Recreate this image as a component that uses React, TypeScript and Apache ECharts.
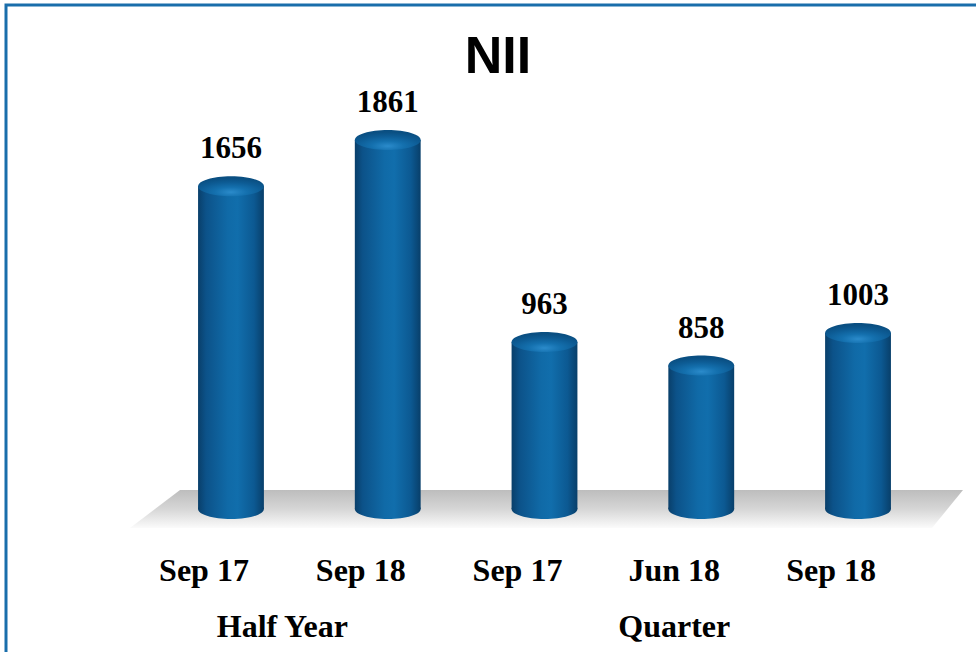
import React, { useEffect, useRef } from "react";
import * as echarts from "echarts";

const TITLE = "NII";
const CATEGORIES = ["Sep 17", "Sep 18", "Sep 17", "Jun 18", "Sep 18"];
const VALUES = [1656, 1861, 963, 858, 1003];
const GROUPS = ["Half Year", "Quarter"];
const GROUP_SPANS = [[0, 1], [2, 4]];
const Y_MIN = 220;
const Y_MAX = 2020;

const SERIF = '"Liberation Serif", "Times New Roman", serif';
const SANS = '"Liberation Sans", Arial, sans-serif';

export default function App() {
  const ref = useRef<HTMLDivElement>(null);

  useEffect(() => {
    if (!ref.current) return;
    const chart = echarts.init(ref.current, null, { renderer: "svg" });

    const sideGradient = () =>
      new echarts.graphic.LinearGradient(0, 0, 1, 0, [
        { offset: 0, color: "#093f6a" },
        { offset: 0.12, color: "#0c5289" },
        { offset: 0.45, color: "#106aa7" },
        { offset: 0.6, color: "#116eac" },
        { offset: 0.85, color: "#0c5992" },
        { offset: 1, color: "#083f6a" },
      ]);

    const option: any = {
      animation: false,
      backgroundColor: "#ffffff",
      grid: { left: 152.6, right: 39.6, top: 104.3, bottom: 652 - 509.1, containLabel: false },
      xAxis: {
        type: "category",
        data: CATEGORIES,
        axisLine: { show: false },
        axisTick: { show: false },
        splitLine: { show: false },
        axisLabel: {
          interval: 0,
          margin: 45,
          padding: [0, 54, 0, 0],
          fontFamily: SERIF,
          fontWeight: "bold",
          fontSize: 32,
          lineHeight: 32,
          color: "#000000",
        },
      },
      yAxis: {
        type: "value",
        min: Y_MIN,
        max: Y_MAX,
        show: false,
        splitLine: { show: false },
      },
      series: [
        {
          type: "custom",
          z: 5,
          encode: { x: 0, y: 1 },
          data: VALUES.map((v, i) => [i, v]),
          renderItem: (params: any, api: any) => {
            const idx = api.value(0);
            const v = api.value(1);
            const top = api.coord([idx, v]);
            const base = api.coord([idx, Y_MIN]);
            const band = api.size([1, 0])[0];
            const w = band * 0.42;
            const rx = w / 2;
            const ry = 10;
            const cx = top[0];
            return {
              type: "group",
              children: [
                {
                  type: "ellipse",
                  shape: { cx, cy: base[1], rx, ry },
                  style: { fill: sideGradient() },
                },
                {
                  type: "rect",
                  shape: { x: cx - rx, y: top[1], width: w, height: base[1] - top[1] },
                  style: { fill: sideGradient() },
                },
                {
                  type: "ellipse",
                  shape: { cx, cy: top[1], rx, ry },
                  style: {
                    fill: new echarts.graphic.RadialGradient(0.5, 0.8, 0.7, [
                      { offset: 0, color: "#2b8bcb" },
                      { offset: 0.35, color: "#1470ae" },
                      { offset: 0.7, color: "#0d5c95" },
                      { offset: 1, color: "#0a4f82" },
                    ]),
                  },
                },
                {
                  type: "text",
                  style: {
                    text: String(v),
                    x: cx,
                    y: top[1] - ry - 13,
                    align: "center",
                    verticalAlign: "bottom",
                    font: `bold 31px ${SERIF}`,
                    fill: "#000000",
                  },
                },
              ],
            };
          },
        },
      ],
    };

    chart.setOption(option);

    const px = (i: number) => chart.convertToPixel({ xAxisIndex: 0 }, i) as number;
    const labelShift = 27;
    const groupTexts = GROUPS.map((g, k) => {
      const [a, b] = GROUP_SPANS[k];
      const x = (px(a) + px(b)) / 2 - labelShift;
      return {
        type: "text",
        z: 10,
        style: {
          text: g,
          x,
          y: 626,
          align: "center",
          verticalAlign: "middle",
          font: `bold 32px ${SERIF}`,
          fill: "#000000",
        },
      };
    });

    chart.setOption({
      graphic: [
        {
          type: "polygon",
          z: 0,
          shape: {
            points: [
              [180, 490],
              [963, 490],
              [932, 528],
              [130, 528],
            ],
          },
          style: {
            fill: new echarts.graphic.LinearGradient(0, 0, 0, 1, [
              { offset: 0, color: "#bdbdbd" },
              { offset: 0.5, color: "#d6d6d6" },
              { offset: 1, color: "#fbfbfb" },
            ]),
          },
        },
        {
          type: "polyline",
          z: 20,
          shape: { points: [[6, 652], [6, 5], [976, 5]] },
          style: { stroke: "#1a6eab", lineWidth: 3, fill: "none" },
        },
        {
          type: "text",
          z: 10,
          style: {
            text: TITLE,
            x: 498,
            y: 55,
            align: "center",
            verticalAlign: "middle",
            font: `bold 52px ${SANS}`,
            fill: "#000000",
          },
        },
        ...groupTexts,
      ],
    });

    return () => chart.dispose();
  }, []);

  return (
    <div
      ref={ref}
      style={{ position: "absolute", left: 0, top: 0, width: 976, height: 652, overflow: "hidden" }}
    />
  );
}
